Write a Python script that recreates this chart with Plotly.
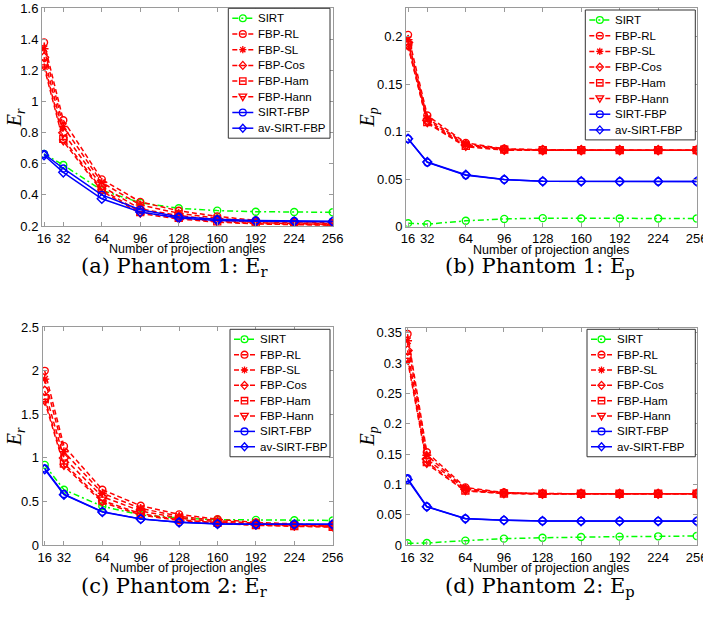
import plotly.graph_objects as go

W, H = 703, 621

angles = [16, 32, 64, 96, 128, 160, 192, 224, 256]
x_tick_labels = ["16", "32", "64", "96", "128", "160", "192", "224", "256"]

series_names = ["SIRT", "FBP-RL", "FBP-SL", "FBP-Cos", "FBP-Ham", "FBP-Hann", "SIRT-FBP", "av-SIRT-FBP"]

# Phantom 1: E_r
p1_er_sirt = [0.663, 0.592, 0.43, 0.35, 0.314, 0.299, 0.292, 0.29, 0.288]
p1_er_rl = [1.38, 0.88, 0.50, 0.355, 0.298, 0.262, 0.236, 0.226, 0.22]
p1_er_sl = [1.34, 0.84, 0.48, 0.335, 0.282, 0.25, 0.228, 0.22, 0.215]
p1_er_cos = [1.285, 0.80, 0.455, 0.31, 0.267, 0.24, 0.222, 0.215, 0.21]
p1_er_ham = [1.245, 0.76, 0.435, 0.29, 0.252, 0.23, 0.216, 0.21, 0.207]
p1_er_hann = [1.225, 0.745, 0.425, 0.28, 0.245, 0.225, 0.213, 0.208, 0.205]
p1_er_sirtfbp = [0.663, 0.57, 0.40, 0.305, 0.26, 0.243, 0.236, 0.233, 0.23]
p1_er_avsirtfbp = [0.655, 0.545, 0.375, 0.29, 0.252, 0.236, 0.231, 0.229, 0.228]

# Phantom 1: E_p
p1_ep_sirt = [0.0035, 0.0025, 0.006, 0.008, 0.0088, 0.0085, 0.0085, 0.0085, 0.0085]
p1_ep_rl = [0.202, 0.117, 0.088, 0.082, 0.081, 0.0805, 0.0805, 0.0805, 0.0805]
p1_ep_sl = [0.197, 0.114, 0.087, 0.0815, 0.0805, 0.0805, 0.0805, 0.0805, 0.0805]
p1_ep_cos = [0.194, 0.112, 0.086, 0.081, 0.0805, 0.0805, 0.0805, 0.0805, 0.0805]
p1_ep_ham = [0.191, 0.110, 0.085, 0.081, 0.0805, 0.0805, 0.0805, 0.0805, 0.0805]
p1_ep_hann = [0.19, 0.109, 0.084, 0.0805, 0.0805, 0.0805, 0.0805, 0.0805, 0.0805]
p1_ep_sirtfbp = [0.0925, 0.0675, 0.054, 0.0495, 0.0476, 0.0476, 0.0475, 0.0475, 0.0475]
p1_ep_avsirtfbp = [0.0925, 0.068, 0.0545, 0.0495, 0.0476, 0.0476, 0.0475, 0.0475, 0.0475]

# Phantom 2: E_r
p2_er_sirt = [0.92, 0.635, 0.445, 0.345, 0.31, 0.29, 0.288, 0.284, 0.282]
p2_er_rl = [2.0, 1.135, 0.635, 0.45, 0.352, 0.295, 0.26, 0.24, 0.225]
p2_er_sl = [1.905, 1.07, 0.595, 0.42, 0.33, 0.28, 0.25, 0.232, 0.22]
p2_er_cos = [1.77, 1.0, 0.555, 0.39, 0.31, 0.265, 0.24, 0.225, 0.215]
p2_er_ham = [1.685, 0.935, 0.51, 0.36, 0.29, 0.255, 0.23, 0.218, 0.21]
p2_er_hann = [1.65, 0.91, 0.49, 0.345, 0.28, 0.25, 0.225, 0.215, 0.205]
p2_er_sirtfbp = [0.88, 0.585, 0.383, 0.30, 0.262, 0.243, 0.238, 0.238, 0.238]
p2_er_avsirtfbp = [0.87, 0.578, 0.38, 0.298, 0.26, 0.241, 0.237, 0.237, 0.237]

# Phantom 2: E_p
p2_ep_sirt = [0.0028, 0.0033, 0.0072, 0.0105, 0.012, 0.0132, 0.0138, 0.0143, 0.0149]
p2_ep_rl = [0.348, 0.153, 0.095, 0.0865, 0.0848, 0.0846, 0.0845, 0.0845, 0.0845]
p2_ep_sl = [0.337, 0.148, 0.093, 0.086, 0.0847, 0.0845, 0.0845, 0.0845, 0.0845]
p2_ep_cos = [0.321, 0.142, 0.092, 0.0855, 0.0846, 0.0845, 0.0845, 0.0845, 0.0845]
p2_ep_ham = [0.309, 0.137, 0.090, 0.085, 0.0845, 0.0845, 0.0845, 0.0845, 0.0845]
p2_ep_hann = [0.305, 0.134, 0.089, 0.085, 0.0845, 0.0845, 0.0845, 0.0845, 0.0845]
p2_ep_sirtfbp = [0.11, 0.0635, 0.0437, 0.041, 0.0397, 0.0394, 0.0394, 0.0394, 0.0394]
p2_ep_avsirtfbp = [0.108, 0.063, 0.0433, 0.0408, 0.0396, 0.0393, 0.0393, 0.0393, 0.0393]

p1_er_ticks = [0.2, 0.4, 0.6, 0.8, 1.0, 1.2, 1.4, 1.6]
p1_er_ticklabels = ["0.2", "0.4", "0.6", "0.8", "1", "1.2", "1.4", "1.6"]
p1_ep_ticks = [0, 0.05, 0.1, 0.15, 0.2]
p1_ep_ticklabels = ["0", "0.05", "0.1", "0.15", "0.2"]
p2_er_ticks = [0, 0.5, 1.0, 1.5, 2.0, 2.5]
p2_er_ticklabels = ["0", "0.5", "1", "1.5", "2", "2.5"]
p2_ep_ticks = [0, 0.05, 0.1, 0.15, 0.2, 0.25, 0.3, 0.35]
p2_ep_ticklabels = ["0", "0.05", "0.1", "0.15", "0.2", "0.25", "0.3", "0.35"]

captions = ["(a) Phantom 1: E<sub>r</sub>", "(b) Phantom 1: E<sub>p</sub>",
            "(c) Phantom 2: E<sub>r</sub>", "(d) Phantom 2: E<sub>p</sub>"]

# ---- styles ----
GREEN, RED, BLUE = "#00ff00", "#ff0000", "#0000ff"
colors = [GREEN, RED, RED, RED, RED, RED, BLUE, BLUE]
dashes = ["6px,3px,2px,3px"] + ["5px,3px"] * 5 + ["solid", "solid"]
symbols = ["circle-open", "circle-open", "asterisk-open", "diamond-open", "square-open",
           "triangle-down-open", "circle-open", "diamond-open"]
legend_marks = ["circle", "circle", "asterisk", "diamond", "square", "tridown", "circle", "diamond"]

SANS = "Liberation Sans, Arial, sans-serif"
SERIF = "Liberation Serif, Times New Roman, serif"
CAPFONT = "DejaVu Serif, serif"
AXCOL = "#9a9a9a"

panels = [
    dict(data=[p1_er_sirt, p1_er_rl, p1_er_sl, p1_er_cos, p1_er_ham, p1_er_hann, p1_er_sirtfbp, p1_er_avsirtfbp],
         box=(42, 332.7, 8.3, 226), yr=[0.2, 1.6], ticks=p1_er_ticks, tl=p1_er_ticklabels,
         ylab="<i>E</i><sub><i>r</i></sub>", leg=(228.3, 330, 18.3, 15.7)),
    dict(data=[p1_ep_sirt, p1_ep_rl, p1_ep_sl, p1_ep_cos, p1_ep_ham, p1_ep_hann, p1_ep_sirtfbp, p1_ep_avsirtfbp],
         box=(406, 696.7, 8.3, 226.5), yr=[0, 0.23], ticks=p1_ep_ticks, tl=p1_ep_ticklabels,
         ylab="<i>E</i><sub><i>p</i></sub>", leg=(585.3, 695.3, 20, 15.7)),
    dict(data=[p2_er_sirt, p2_er_rl, p2_er_sl, p2_er_cos, p2_er_ham, p2_er_hann, p2_er_sirtfbp, p2_er_avsirtfbp],
         box=(42.7, 332.7, 327.3, 545), yr=[0, 2.5], ticks=p2_er_ticks, tl=p2_er_ticklabels,
         ylab="<i>E</i><sub><i>r</i></sub>", leg=(230, 330, 339.3, 15.35)),
    dict(data=[p2_ep_sirt, p2_ep_rl, p2_ep_sl, p2_ep_cos, p2_ep_ham, p2_ep_hann, p2_ep_sirtfbp, p2_ep_avsirtfbp],
         box=(405.5, 696.7, 328, 545), yr=[0, 0.358], ticks=p2_ep_ticks, tl=p2_ep_ticklabels,
         ylab="<i>E</i><sub><i>p</i></sub>", leg=(587, 695.3, 339.3, 15.35)),
]


def px(x):
    return x / W


def py(y):
    return 1 - y / H


def marker_shape(kind, cx, cy, color):
    r = 3.4
    base = dict(xref="paper", yref="paper", layer="above", line=dict(color=color, width=1.3))
    if kind == "circle":
        return dict(type="circle", x0=px(cx - r), x1=px(cx + r), y0=py(cy + r), y1=py(cy - r), **base)
    if kind == "diamond":
        pts = [(cx, cy - 4), (cx + 3.6, cy), (cx, cy + 4), (cx - 3.6, cy)]
        path = "M" + " L".join(f"{px(a):.6f},{py(b):.6f}" for a, b in pts) + " Z"
        return dict(type="path", path=path, **base)
    if kind == "square":
        pts = [(cx - 3.2, cy - 3.2), (cx + 3.2, cy - 3.2), (cx + 3.2, cy + 3.2), (cx - 3.2, cy + 3.2)]
        path = "M" + " L".join(f"{px(a):.6f},{py(b):.6f}" for a, b in pts) + " Z"
        return dict(type="path", path=path, **base)
    if kind == "tridown":
        pts = [(cx - 3.8, cy - 2.7), (cx + 3.8, cy - 2.7), (cx, cy + 3.8)]
        path = "M" + " L".join(f"{px(a):.6f},{py(b):.6f}" for a, b in pts) + " Z"
        return dict(type="path", path=path, **base)
    # asterisk
    segs = [((cx - 3.6, cy), (cx + 3.6, cy)), ((cx, cy - 3.6), (cx, cy + 3.6)),
            ((cx - 2.6, cy - 2.6), (cx + 2.6, cy + 2.6)), ((cx - 2.6, cy + 2.6), (cx + 2.6, cy - 2.6))]
    path = " ".join(f"M{px(a[0]):.6f},{py(a[1]):.6f} L{px(b[0]):.6f},{py(b[1]):.6f}" for a, b in segs)
    return dict(type="path", path=path, **base)


fig = go.Figure()
layout = dict(width=W, height=H, margin=dict(l=0, r=0, t=0, b=0, autoexpand=False),
              paper_bgcolor="white", plot_bgcolor="white", showlegend=False,
              annotations=[], shapes=[])

caption_pos = [(174, 267), (540, 267), (174, 587), (540, 587)]
ylab_x = [15, 368, 15, 368]

for k, p in enumerate(panels):
    sfx = "" if k == 0 else str(k + 1)
    x0, x1, y0, y1 = p["box"]
    for i, name in enumerate(series_names):
        fig.add_trace(go.Scatter(
            x=angles, y=p["data"][i], name=name, mode="lines+markers",
            xaxis="x" + sfx, yaxis="y" + sfx, showlegend=False,
            line=dict(color=colors[i], dash=dashes[i], width=1.5),
            marker=dict(symbol=symbols[i], size=7.5 if i == 2 else 7, color=colors[i],
                        line=dict(width=1.4, color=colors[i])),
        ))
    axcommon = dict(showline=True, linecolor=AXCOL, linewidth=1, mirror="ticks", automargin=False,
                    ticks="inside", ticklen=4, tickcolor=AXCOL, showgrid=False, zeroline=False,
                    ticklabeloverflow="allow",
                    tickfont=dict(family=SANS, size=13, color="black"))
    layout["xaxis" + sfx] = dict(domain=[x0 / W, x1 / W], range=[14.3, 256], anchor="y" + sfx,
                                 tickvals=angles, ticktext=x_tick_labels, **axcommon)
    layout["yaxis" + sfx] = dict(domain=[1 - y1 / H, 1 - y0 / H], range=p["yr"], anchor="x" + sfx,
                                 tickvals=p["ticks"], ticktext=p["tl"], **axcommon)

    # legend box drawn in layout
    L, R, r0, step = p["leg"]
    top, bot = r0 - 10, r0 + 7 * step + 10
    layout["shapes"].append(dict(type="rect", xref="paper", yref="paper", layer="above",
                                 x0=px(L), x1=px(R), y0=py(bot), y1=py(top),
                                 fillcolor="white", line=dict(color="#333333", width=1)))
    for i, name in enumerate(series_names):
        ry = r0 + i * step
        d = dashes[i]
        layout["shapes"].append(dict(type="line", xref="paper", yref="paper", layer="above",
                                     x0=px(L + 4), x1=px(L + 25), y0=py(ry), y1=py(ry),
                                     line=dict(color=colors[i], width=1.5, dash=d)))
        layout["shapes"].append(marker_shape(legend_marks[i], L + 14.5, ry, colors[i]))
        layout["annotations"].append(dict(text=name, xref="paper", yref="paper", x=px(L + 28), y=py(ry),
                                          xanchor="left", yanchor="middle", showarrow=False,
                                          font=dict(family=SANS, size=11.5, color="black")))

    # x-axis title
    layout["annotations"].append(dict(text="Number of projection angles", xref="paper", yref="paper",
                                      x=(x0 + x1) / 2 / W, y=py(y1 + 23), xanchor="center",
                                      yanchor="middle", showarrow=False,
                                      font=dict(family=SANS, size=12.5, color="black")))
    # y-axis title
    layout["annotations"].append(dict(text=p["ylab"], xref="paper", yref="paper",
                                      x=ylab_x[k] / W, y=py((y0 + y1) / 2), textangle=-90,
                                      xanchor="center", yanchor="middle", showarrow=False,
                                      font=dict(family=SERIF, size=20, color="black")))
    cx, cy = caption_pos[k]
    layout["annotations"].append(dict(text=captions[k], xref="paper", yref="paper",
                                      x=px(cx), y=py(cy), xanchor="center", yanchor="middle",
                                      showarrow=False, font=dict(family=CAPFONT, size=21, color="black")))

fig.update_layout(**layout)
fig.write_html("out.html", config={"displayModeBar": False},
               post_script="document.body.style.margin='0';")
